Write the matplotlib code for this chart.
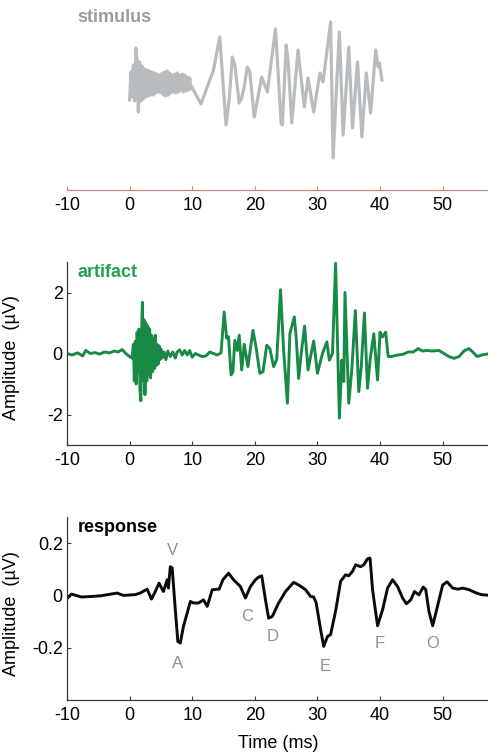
import matplotlib
matplotlib.use("Agg")
import matplotlib.pyplot as plt

plt.rcParams['font.family'] = ['Liberation Sans', 'DejaVu Sans']
plt.rcParams['axes.unicode_minus'] = False

# ---------------- data ----------------
# stimulus (arbitrary units)
stim_t = [0.0, 0.2, 0.4, 0.6, 0.8, 1.0, 1.2, 1.4, 1.6, 1.8, 2.0, 2.2, 2.4, 2.6, 2.8,
          3.0, 3.2, 3.4, 3.6, 3.8, 4.0, 4.2, 4.4, 4.6, 4.8, 5.0, 5.2, 5.4, 5.6, 5.8,
          6.0, 6.2, 6.4, 6.6, 6.8, 7.0, 7.2, 7.4, 7.6, 7.8, 8.0, 8.2, 8.4, 8.6, 8.8,
          9.0, 9.2, 9.4, 9.6, 9.8,
          9.9, 11.4, 13.4, 14.4, 15.4, 15.9, 16.4, 16.8, 17.5, 17.9, 18.3, 18.8, 19.2,
          19.9, 21.1, 22.0, 23.3, 24.2, 24.4, 25.0, 25.3, 25.9, 26.9, 27.9, 28.5, 29.4,
          30.4, 30.9, 32.1, 32.5, 33.1, 33.5, 34.1, 35.0, 35.6, 36.4, 37.1, 37.8, 38.5,
          39.3, 39.7, 39.9, 40.3]
stim_v = [-1.5, 1.3, -1.2, 2.0, -1.6, 3.7, 2.4, -2.7, 2.3, -1.6, 1.9, -1.4, 1.6, -1.2, 1.5,
          -1.1, 1.4, -1.0, 1.3, -1.0, 1.2, -0.8, 1.1, -0.7, 1.0, -0.8, 1.2, -1.0, 1.3, -1.1,
          1.4, -1.0, 1.2, -0.8, 1.0, -0.7, 1.1, -0.8, 1.2, -0.7, 1.0, -0.6, 1.1, -0.7, 1.0,
          -0.6, 0.8, -0.5, 0.7, -0.4,
          -0.17, -1.9, 1.5, 4.8, -4.0, -1.5, 2.8, 2.0, -1.8, -1.3, -0.2, 1.8, 1.3,
          -3.2, 0.8, -0.7, 5.6, -3.8, -4.0, 4.0, 2.5, -3.8, 3.5, -2.2, 0.7, -2.7,
          1.2, 0.3, 6.3, -7.3, 0.5, 5.3, -5.0, 3.8, -4.3, 2.3, -5.2, 1.2, -2.8,
          3.5, 1.8, 2.2, 0.5]

# artifact (uV)
art_t = [-10.0, -9.2, -8.3, -7.5, -7.0, -6.3, -5.5, -4.8, -4.0, -3.2, -2.5, -1.8, -1.2,
         -0.6, 0.0, 0.4,
         0.6, 0.75, 0.9, 1.05, 1.2, 1.35, 1.5, 1.65, 1.8, 1.95, 2.05, 2.2, 2.35, 2.45,
         2.6, 2.75, 2.9, 3.05, 3.2, 3.35, 3.5, 3.65, 3.8, 3.95, 4.1, 4.25, 4.4, 4.55,
         4.7, 4.85, 5.0, 5.2, 5.5, 5.8, 6.1, 6.5, 6.9, 7.3, 7.6, 8.0, 8.4, 8.8, 9.2,
         9.6, 10.0, 10.5, 11.0, 11.6, 12.2, 12.8, 13.4, 14.0, 14.6,
         15.1, 15.5, 15.8, 16.2, 16.5, 16.8, 17.2, 17.5, 17.9, 18.3, 18.9, 19.7, 20.2,
         20.8, 21.3, 21.9, 22.4, 23.0, 23.5, 24.1, 24.6, 25.2, 25.6, 26.3, 26.6, 27.0,
         27.4, 27.95, 28.5, 28.9, 29.4, 30.0, 30.8, 31.5, 31.9, 32.4, 32.9, 33.5, 33.9,
         34.2, 34.4, 35.0, 35.5, 36.05, 36.6, 37.0, 37.5, 38.0, 38.4, 39.0, 39.6, 40.0,
         40.35, 40.9, 41.3, 41.8, 42.8, 43.6, 44.5, 45.3, 46.1, 46.8, 47.5, 48.3, 49.4,
         50.2, 51.0, 51.8, 52.6, 53.5, 54.2, 54.8, 55.5, 56.2, 57.0, 57.6]
art_v = [0.0, -0.05, 0.02, -0.08, 0.1, 0.0, 0.03, -0.02, 0.05, 0.02, 0.08, 0.05, 0.13,
         0.0, -0.1, -0.15,
         0.3, -0.9, 0.4, -1.0, 0.7, -0.6, 0.8, -1.2, -1.55, 1.0, 1.68, -0.9, 1.1, -1.35,
         1.0, -0.9, 0.9, -0.7, 0.8, -0.8, 0.6, -0.6, 0.5, -0.5, 0.6, -0.4, 0.3, -0.35,
         0.25, -0.2, 0.15, -0.15, 0.05, -0.2, 0.08, -0.1, 0.05, -0.15, 0.05, 0.12, -0.05,
         0.1, -0.05, 0.1, -0.12, 0.0, -0.05, -0.1, -0.08, 0.05, 0.0, -0.05, 0.02,
         1.36, 0.5, 0.55, -0.7, -0.6, 0.43, 0.1, 0.6, -0.54, 0.3, -0.43, 0.76, 0.2,
         -0.65, -0.6, 0.27, 0.16, -0.43, -0.2, 2.09, 0.1, -1.63, 0.65, 1.2, 0.54, -0.82,
         0.0, 0.9, -0.54, -0.1, 0.41, -0.65, 0.0, 0.38, -0.22, 0.0, 2.96, -2.12, -0.22,
         -0.92, 2.0, -1.63, -0.5, 1.41, -1.25, -0.43, 1.33, -1.14, -0.22, 0.65, -0.87, 0.7,
         0.54, 0.7, -0.1, -0.1, -0.05, -0.03, 0.05, 0.05, 0.16, 0.08, 0.1, 0.08, 0.1,
         0.0, -0.1, -0.16, -0.1, 0.1, 0.16, 0.05, -0.1, -0.05, -0.02, 0.0]

# response (uV)
resp_t = [-9.9, -9.3, -7.7, -6.1, -4.5, -2.0, -1.0, 0.9, 1.7, 2.8, 3.5, 4.1, 4.7, 5.4,
          6.0, 6.2, 6.5, 6.8, 7.3, 7.7, 8.1, 8.6, 9.2, 9.7, 10.2, 11.0, 11.8, 12.4,
          13.2, 14.3, 14.9, 15.8, 16.6, 17.7, 18.5, 19.3, 20.1, 20.6, 21.1, 21.7,
          22.2, 22.8, 23.8, 24.9, 26.2, 27.0, 28.1, 28.9, 29.4, 29.8, 30.5, 31.0,
          31.6, 32.1, 32.9, 33.7, 34.5, 35.0, 35.6, 36.1, 36.9, 37.4, 38.0, 38.4,
          38.8, 39.6, 40.4, 41.2, 42.0, 42.8, 43.6, 44.2, 44.9, 45.5, 46.2, 46.9,
          47.3, 47.8, 48.4, 48.9, 50.0, 50.7, 51.6, 52.4, 53.2, 54.2, 55.4, 56.2, 57.7]
resp_v = [-0.01, 0.005, -0.006, -0.004, -0.001, 0.009, 0.0, 0.003, 0.009, 0.024, -0.014,
          0.015, 0.047, 0.015, 0.06, 0.028, 0.11, 0.105, -0.055, -0.176, -0.182, -0.118,
          -0.067, -0.023, -0.029, -0.029, -0.017, -0.042, 0.022, 0.024, 0.06, 0.085,
          0.06, 0.034, -0.01, 0.034, 0.06, 0.07, 0.075, -0.017, -0.087, -0.08, -0.029,
          0.015, 0.05, 0.04, 0.022, -0.004, -0.006, -0.029, -0.13, -0.195, -0.157, -0.15,
          -0.06, 0.054, 0.079, 0.075, 0.092, 0.117, 0.11, 0.117, 0.14, 0.143, 0.022,
          -0.116, -0.055, 0.028, 0.06, 0.034, -0.01, -0.032, -0.017, 0.015, 0.002,
          0.032, 0.022, -0.06, -0.116, -0.068, 0.04, 0.052, 0.028, 0.024, 0.028, 0.022,
          0.009, 0.003, 0.0]

peak_labels = ['V', 'A', 'C', 'D', 'E', 'F', 'O']
peak_t = [6.8, 7.7, 18.7, 22.9, 31.3, 40.0, 48.4]
peak_v = [0.172, -0.259, -0.08, -0.157, -0.271, -0.182, -0.182]

x_ticks = [-10, 0, 10, 20, 30, 40, 50]
art_yticks = [-2, 0, 2]
resp_yticks = [-0.2, 0, 0.2]
resp_yticklabels = ['-0.2', '0', '0.2']

# ---------------- styles ----------------
STIM_C = '#b9bcbe'
STIM_LABEL_C = '#9a9c9e'
ART_C = '#188a46'
ART_LABEL_C = '#22a052'
RESP_C = '#0a0a0a'
PEAK_C = '#86929a'
SPINE_C = '#3a3a3a'
FS = 13

fig = plt.figure(figsize=(4.89, 7.54), dpi=100)
L, W, H = 67 / 489, 422 / 489, 183 / 754
ax1 = fig.add_axes([L, (754 - 190) / 754, W, H])
ax2 = fig.add_axes([L, (754 - 445) / 754, W, H])
ax3 = fig.add_axes([L, (754 - 700) / 754, W, H])

for ax in (ax1, ax2, ax3):
    ax.set_xlim(-10, 57.4)
    ax.set_xticks(x_ticks)
    ax.set_xticklabels([str(v) for v in x_ticks])
    ax.tick_params(direction='in', length=3, width=0.8, labelsize=FS, pad=5,
                   colors=SPINE_C, labelcolor='black')
    ax.spines['top'].set_visible(False)
    ax.spines['right'].set_visible(False)
    ax.patch.set_visible(False)

# top: stimulus
ax1.plot(stim_t, stim_v, color=STIM_C, lw=2.3, solid_joinstyle='round')
ax1.set_ylim(-10.5, 7.8)
ax1.spines['left'].set_visible(False)
ax1.spines['bottom'].set_color('#c98a78')
ax1.spines['bottom'].set_linewidth(0.9)
ax1.tick_params(axis='x', colors='#c98a78', labelcolor='black')
ax1.set_yticks([])
ax1.text(0.024, 0.945, 'stimulus', transform=ax1.transAxes, fontsize=FS,
         fontweight='bold', color=STIM_LABEL_C, va='center', ha='left')

# middle: artifact
ax2.plot(art_t, art_v, color=ART_C, lw=2.1, solid_joinstyle='round')
ax2.set_ylim(-3, 3)
ax2.set_yticks(art_yticks)
ax2.set_yticklabels([str(v) for v in art_yticks])
ax2.tick_params(axis='y', pad=3)
for s in ('left', 'bottom'):
    ax2.spines[s].set_color(SPINE_C)
    ax2.spines[s].set_linewidth(0.9)
ax2.set_ylabel('Amplitude  (\u00b5V)', fontsize=FS)
ax2.yaxis.set_label_coords(-0.112, 0.48)
ax2.text(0.024, 0.945, 'artifact', transform=ax2.transAxes, fontsize=FS,
         fontweight='bold', color=ART_LABEL_C, va='center', ha='left')

# bottom: response
ax3.plot(resp_t, resp_v, color=RESP_C, lw=2.1, solid_joinstyle='round')
ax3.set_ylim(-0.4, 0.3)
ax3.set_yticks(resp_yticks)
ax3.set_yticklabels(resp_yticklabels)
ax3.tick_params(axis='y', pad=3)
for s in ('left', 'bottom'):
    ax3.spines[s].set_color(SPINE_C)
    ax3.spines[s].set_linewidth(0.9)
ax3.set_ylabel('Amplitude  (\u00b5V)', fontsize=FS)
ax3.yaxis.set_label_coords(-0.112, 0.47)
ax3.set_xlabel('Time (ms)', fontsize=FS, labelpad=8)
ax3.text(0.026, 0.94, 'response', transform=ax3.transAxes, fontsize=FS,
         fontweight='bold', color='black', va='center', ha='left')
for lab, t, v in zip(peak_labels, peak_t, peak_v):
    ax3.text(t, v, lab, color=PEAK_C, fontsize=12, ha='center', va='center')

fig.savefig('out.png', dpi=100)
